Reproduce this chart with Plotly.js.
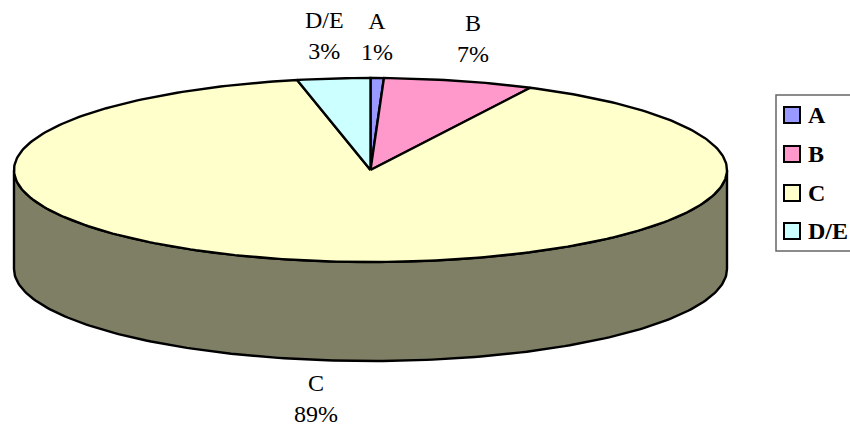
<!DOCTYPE html>
<html>
<head>
<meta charset="utf-8">
<script src="https://cdn.plot.ly/plotly-3.0.1.min.js"></script>
<style>html,body{margin:0;padding:0;background:#fff;overflow:hidden}#chart{width:850px;height:428px}</style>
</head>
<body>
<div id="chart"></div>
<script>
var categories = ['A', 'B', 'C', 'D/E'];
var shareValues = [0.6, 6.8, 89.3, 3.3];
var sliceColors = ['#9999FF', '#FF99CC', '#FFFFCC', '#CCFFFF'];
var wallColor = '#7F7F65';
var labelX = [377, 473, 316, 324];
var labelY = [36, 38.5, 398, 35.5];
var legendRowY = [115, 154, 193, 231];

var cx = 370.5, cy = 170, rx = 356.5, ry = 92, depth = 99;
var FONT = '"Liberation Serif","Times New Roman",serif';
var EDGE = 2.4;

function px(deg) { return cx + rx * Math.sin(deg * Math.PI / 180); }
function py(deg, off) { return cy + (off || 0) - ry * Math.cos(deg * Math.PI / 180); }

var traces = [];
var wx = [], wy = [], d;
for (d = 90; d <= 270; d++) { wx.push(px(d)); wy.push(py(d)); }
for (d = 270; d >= 90; d--) { wx.push(px(d)); wy.push(py(d, depth)); }
wx.push(wx[0]); wy.push(wy[0]);
traces.push({ type: 'scatter', mode: 'lines', x: wx, y: wy, fill: 'toself', fillcolor: wallColor,
  line: { color: '#000', width: EDGE }, hoverinfo: 'skip', showlegend: false });

var total = shareValues.reduce(function (a, b) { return a + b; }, 0);
var start = 0;
shareValues.forEach(function (v, i) {
  var end = start + v / total * 360, xs = [cx], ys = [cy], n = Math.max(2, Math.ceil(end - start));
  for (var k = 0; k <= n; k++) {
    var t = start + (end - start) * k / n;
    xs.push(px(t)); ys.push(py(t));
  }
  xs.push(cx); ys.push(cy);
  traces.push({ type: 'scatter', mode: 'lines', x: xs, y: ys, fill: 'toself', fillcolor: sliceColors[i],
    line: { color: '#000', width: EDGE }, name: categories[i], hoverinfo: 'skip', showlegend: false });
  start = end;
});

traces.push({ type: 'scatter', mode: 'markers', x: categories.map(function () { return 792; }), y: legendRowY,
  marker: { symbol: 'square', size: 16, color: sliceColors, line: { color: '#000', width: 2 } },
  hoverinfo: 'skip', showlegend: false });

var annotations = categories.map(function (c, i) {
  return { xref: 'x', yref: 'y', x: labelX[i], y: labelY[i], showarrow: false, xanchor: 'center', yanchor: 'middle',
    text: c + '<br>' + Math.round(shareValues[i] / total * 100) + '%',
    font: { family: FONT, size: 24, color: '#000' } };
}).concat(categories.map(function (c, i) {
  return { xref: 'x', yref: 'y', x: 807, y: legendRowY[i], showarrow: false, xanchor: 'left', yanchor: 'middle',
    xshift: 0, borderpad: 0, text: '<b>' + c + '</b>',
    font: { family: FONT, size: 24, color: '#000' } };
}));

Plotly.newPlot('chart', traces, {
  width: 850, height: 428, margin: { l: 0, r: 0, t: 0, b: 0 },
  paper_bgcolor: '#fff', plot_bgcolor: '#fff', showlegend: false, hovermode: false,
  xaxis: { range: [0, 850], visible: false, fixedrange: true },
  yaxis: { range: [428, 0], visible: false, fixedrange: true },
  shapes: [{ type: 'rect', xref: 'x', yref: 'y', x0: 776, x1: 870, y0: 95, y1: 251, layer: 'below',
    line: { color: '#666', width: 1.5 }, fillcolor: '#fff' }],
  annotations: annotations
}, { displayModeBar: false, staticPlot: true });
</script>
</body>
</html>
